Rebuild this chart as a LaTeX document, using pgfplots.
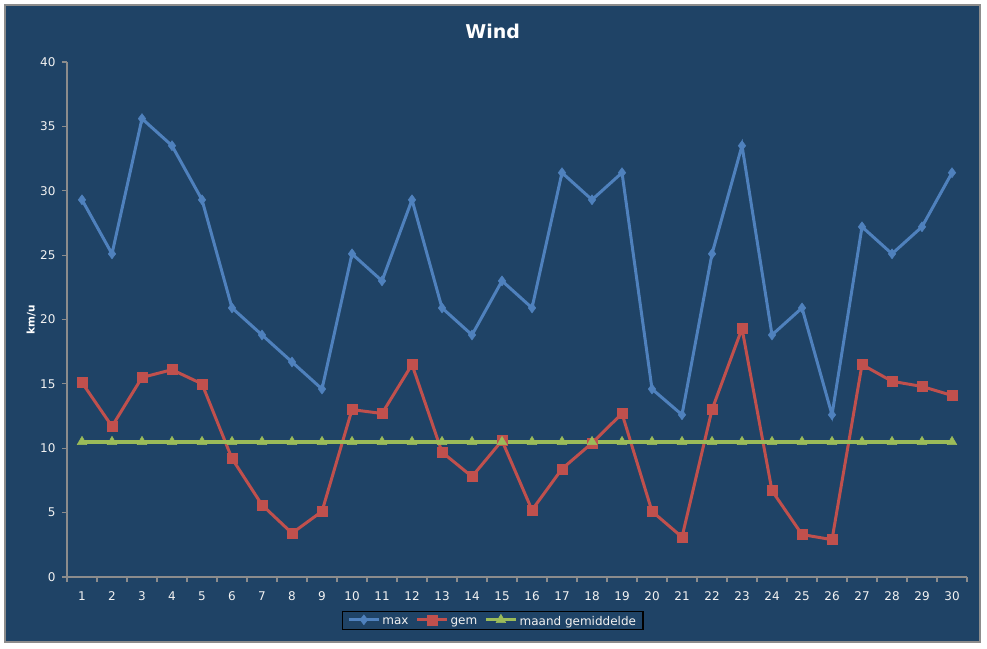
\documentclass[border=0pt]{standalone}
\usepackage{pgfplots}
\pgfplotsset{compat=1.18}
\usepackage{fontspec}
\setmainfont{DejaVu Sans}

\definecolor{bgblue}{HTML}{1F4366}
\definecolor{frame}{HTML}{8C8C8C}
\definecolor{cmax}{HTML}{4F81BD}
\definecolor{cgem}{HTML}{C0504D}
\definecolor{cavg}{HTML}{9BBB59}
\definecolor{txt}{HTML}{F2F2F2}

\pgfplotstableread{
day max gem avg
1  29.3 15.1 10.5
2  25.1 11.7 10.5
3  35.6 15.5 10.5
4  33.5 16.1 10.5
5  29.3 15.0 10.5
6  20.9 9.2  10.5
7  18.8 5.6  10.5
8  16.7 3.4  10.5
9  14.6 5.1  10.5
10 25.1 13.0 10.5
11 23.0 12.7 10.5
12 29.3 16.5 10.5
13 20.9 9.7  10.5
14 18.8 7.8  10.5
15 23.0 10.6 10.5
16 20.9 5.2  10.5
17 31.4 8.4  10.5
18 29.3 10.4 10.5
19 31.4 12.7 10.5
20 14.6 5.1  10.5
21 12.6 3.1  10.5
22 25.1 13.0 10.5
23 33.5 19.3 10.5
24 18.8 6.7  10.5
25 20.9 3.3  10.5
26 12.6 2.9  10.5
27 27.2 16.5 10.5
28 25.1 15.2 10.5
29 27.2 14.8 10.5
30 31.4 14.1 10.5
}\wind

\begin{document}
\begin{tikzpicture}
% page and chart area
\fill[white] (-67pt,-71pt) rectangle (920pt,577pt);
\filldraw[fill=bgblue, draw=frame, line width=1.5pt] (-62pt,-65pt) rectangle (913pt,572pt);
\begin{axis}[
  scale only axis,
  width=900pt, height=515pt,
  xmin=0.5, xmax=30.5,
  ymin=0, ymax=40,
  axis lines*=left,
  axis line style={frame, line width=1.2pt},
  tick align=outside,
  xtick={1,...,30},
  minor xtick={0.5,1.5,...,30.5},
  major x tick style={draw=none},
  minor tick length=5pt,
  major tick length=5pt,
  ytick={0,5,...,40},
  every tick/.style={frame, line width=1.2pt},
  tick label style={font=\fontsize{12}{14}\selectfont, text=txt},
  /pgf/number format/assume math mode=true,
  xticklabel style={yshift=-6pt},
  yticklabel style={xshift=-3pt},
  title={Wind},
  title style={at={(0.473,1)}, anchor=center, yshift=25pt,
    font=\fontsize{19}{22}\selectfont\bfseries, text=white},
  ylabel={km/u},
  ylabel style={at={(axis description cs:-0.04,0.5)}, anchor=center,
    font=\fontsize{10.5}{12}\selectfont\bfseries, text=white},
  legend columns=3,
  legend style={at={(axis description cs:0.473,-0.085)}, anchor=center,
    draw=black, fill=none, line width=1.2pt,
    font=\fontsize{12}{14}\selectfont, text=txt,
    inner xsep=5pt, inner ysep=2.5pt,
    /tikz/every even column/.append style={column sep=5pt},
    nodes={text depth=0pt, yshift=-1pt}},
  legend image code/.code={
    \draw[#1, mark repeat=2, mark phase=2] plot coordinates {(0pt,0pt) (15pt,0pt) (30pt,0pt)};
  },
]
\addplot[cmax, line width=3pt, mark=diamond*, mark size=5pt,
  mark options={line width=0.5pt}] table[x=day, y=max] {\wind};
\addlegendentry{max}
\addplot[cgem, line width=3pt, mark=square*, mark size=5pt,
  mark options={line width=0.5pt}] table[x=day, y=gem] {\wind};
\addlegendentry{gem}
\addplot[cavg, line width=3.4pt, mark=triangle*, mark size=5.5pt,
  mark options={line width=0.5pt}] table[x=day, y=avg] {\wind};
\addlegendentry{maand gemiddelde}
\end{axis}
\end{tikzpicture}
\end{document}
